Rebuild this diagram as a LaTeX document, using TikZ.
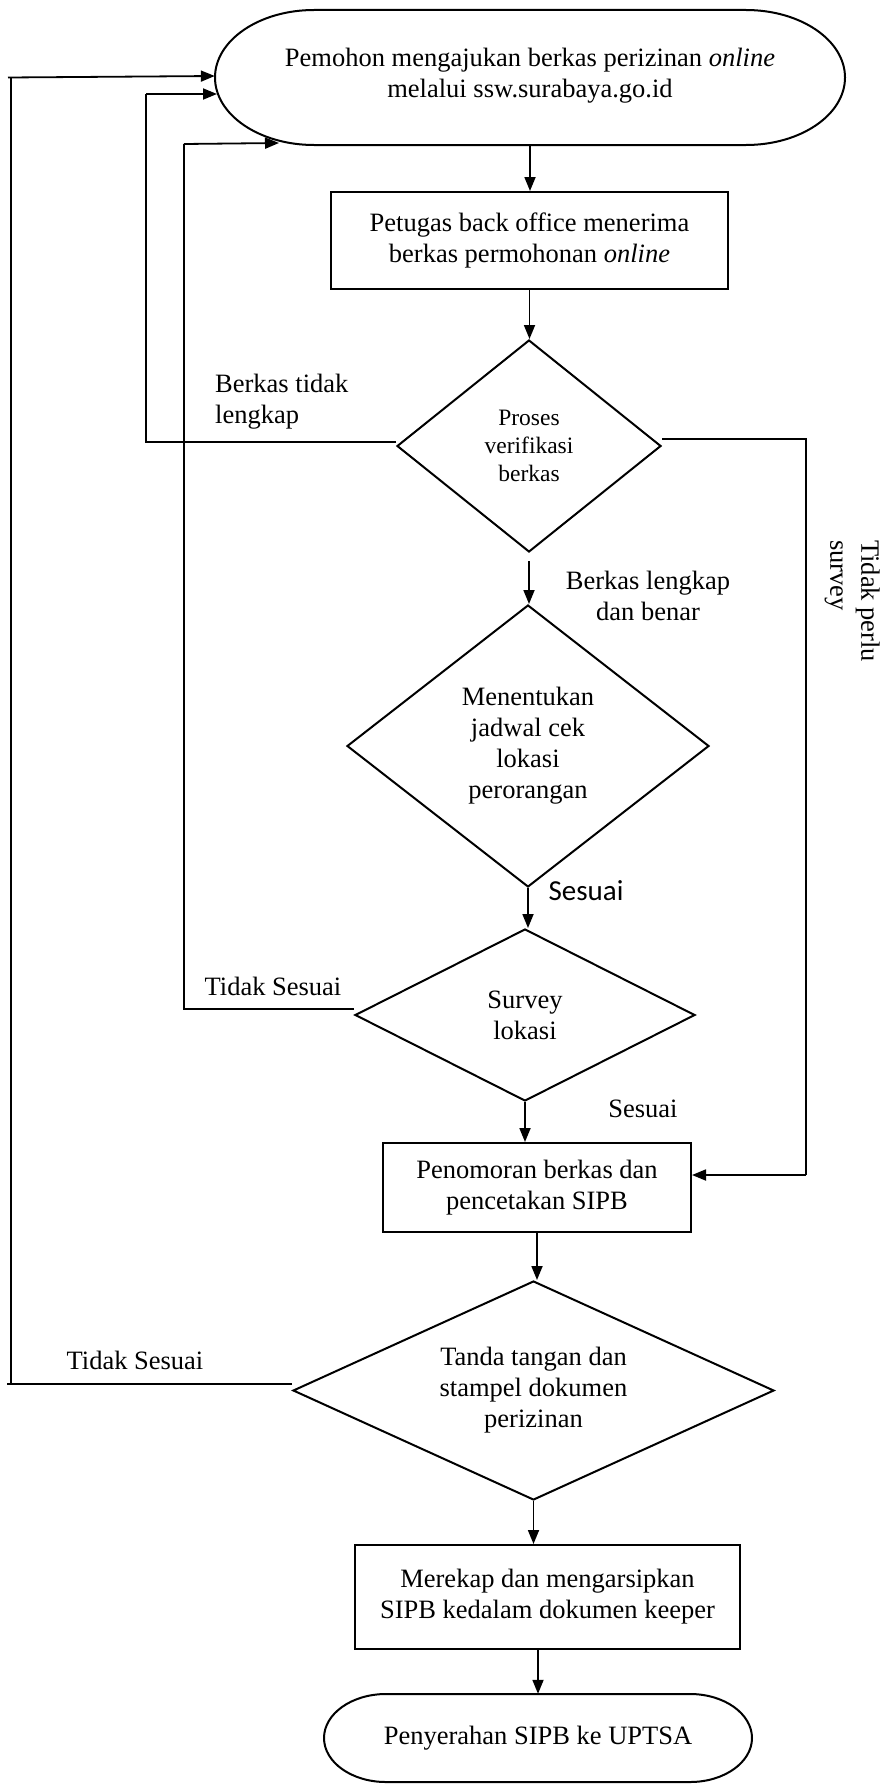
\documentclass[tikz,border=0pt]{standalone}
\usepackage{fontspec}
\setmainfont{Liberation Serif}
\newfontfamily\calibrifont{Carlito}
\usetikzlibrary{arrows.meta,shapes.geometric}
\begin{document}
\begin{tikzpicture}[x=1pt,y=1pt,
  shapeline/.style={line width=2pt},
  flow/.style={line width=1.8pt,-{Triangle[length=14pt,width=11pt]}},
  loopline/.style={line width=1.2pt},
  maintext/.style={font=\fontsize{26.5}{31}\selectfont},
  smalltext/.style={font=\fontsize{23.5}{28}\selectfont},
  txt/.style={maintext, align=center, inner sep=0pt},
  lbl/.style={maintext, inner sep=0pt},
  dia/.style={diamond, draw, line width=2pt, inner sep=0pt, align=center, maintext},
  box/.style={rectangle, draw, line width=2pt, align=center, maintext}
]
\useasboundingbox (0,0) rectangle (880,-1785);

% start terminator
\draw[shapeline] (314,-10) -- (746,-10)
  arc[start angle=90,end angle=-90,x radius=99,y radius=67.5]
  -- (314,-145)
  arc[start angle=270,end angle=90,x radius=99,y radius=67.5] -- cycle;
\node[txt, minimum width=630, minimum height=135] (start) at (530,-76)
  {Pemohon mengajukan berkas perizinan \emph{online}\\melalui ssw.surabaya.go.id};
\coordinate (startL2) at (217,-94);
\coordinate (startB) at (279,-143);
\coordinate (startBot) at (530,-145);

% box 1
\node[box, minimum width=397, minimum height=97] (b1) at (529.5,-240.5)
  {Petugas back office menerima\\berkas permohonan \emph{online}};

% diamonds
\node[dia, smalltext, aspect=1.245, minimum width=264, minimum height=212] (d1) at (529,-446)
  {Proses\\verifikasi\\berkas};
\node[dia, aspect=1.28, minimum width=362, minimum height=282] (d2) at (528,-746)
  {Menentukan\\jadwal cek\\lokasi\\perorangan};
\node[dia, aspect=1.98, minimum width=340, minimum height=172] (d3) at (525,-1015)
  {Survey\\lokasi};

% box 2
\node[box, minimum width=308, minimum height=89] (b2) at (537,-1187.5)
  {Penomoran berkas dan\\pencetakan SIPB};

\node[dia, aspect=2.2, minimum width=481, minimum height=219] (d4) at (533.5,-1390.5)
  {Tanda tangan dan\\stampel dokumen\\perizinan};

% box 3
\node[box, minimum width=385, minimum height=104] (b3) at (547.5,-1597)
  {Merekap dan mengarsipkan\\SIPB kedalam dokumen keeper};

% end terminator
\draw[shapeline] (386,-1694) -- (690,-1694)
  arc[start angle=90,end angle=-90,x radius=62,y radius=44]
  -- (386,-1782)
  arc[start angle=270,end angle=90,x radius=62,y radius=44] -- cycle;
\node[txt, minimum width=428, minimum height=88] (end) at (538,-1738)
  {Penyerahan SIPB ke UPTSA};

% main flow
\draw[flow] (startBot) -- (startBot |- b1.north);
\draw[flow] (b1.south) -- (b1.south |- d1.north);
\draw[flow] ([yshift=-8pt]d1.south) -- (d1.south |- d2.north);
\draw[flow] (d2.south) -- (d2.south |- d3.north);
\draw[flow] (d3.south) -- (d3.south |- b2.north);
\draw[flow] (b2.south) -- (b2.south |- d4.north);
\draw[flow] (d4.south) -- (d4.south |- b3.north);
\draw[flow] (b3.south -| end.north) -- (end.north);

% loop: d4 -> start
\coordinate (c1b) at (11,-1384);
\coordinate (c1t) at (11,-77.5);
\draw[loopline] ([yshift=6.5pt]d4.west) -- ([xshift=-4pt]c1b);
\draw[loopline] (c1b) -- (c1t);
\draw[flow] ([xshift=-3pt]c1t) -- (start.west);

% loop: d1 -> start
\coordinate (c2b) at (146,-442);
\coordinate (c2t) at (146,-94);
\draw[loopline] ([yshift=4pt]d1.west) -- (c2b) -- (c2t);
\draw[flow] (c2t) -- (startL2);

% loop: d3 -> start
\coordinate (c3b) at (184,-1009);
\coordinate (c3t) at (184,-144);
\draw[loopline] ([yshift=6pt]d3.west) -- (c3b) -- (c3t);
\draw[flow] (c3t) -- (startB);

% loop: d1 -> b2 (tidak perlu survey)
\coordinate (c4t) at (806,-439);
\coordinate (c4b) at (806,-1175);
\draw[loopline] ([yshift=7pt]d1.east) -- (c4t) -- (c4b);
\draw[flow] (c4b) -- (c4b -| b2.east);

% labels
\node[lbl, align=left, anchor=west] (l1) at (215,-401.5) {Berkas tidak\\lengkap};
\node[lbl, align=center] (l2) at (648,-596) {Berkas lengkap\\dan benar};
\node[inner sep=0pt, font=\calibrifont\fontsize{29}{34}\selectfont] (l3) at (586,-891) {Sesuai};
\node[lbl] (l4) at (273,-986) {Tidak Sesuai};
\node[lbl] (l5) at (643,-1109) {Sesuai};
\node[lbl] (l6) at (135,-1360) {Tidak Sesuai};
\node[lbl, align=left, rotate=-90, anchor=north west] (l7) at (880,-540) {Tidak perlu\\survey};
\end{tikzpicture}
\end{document}
